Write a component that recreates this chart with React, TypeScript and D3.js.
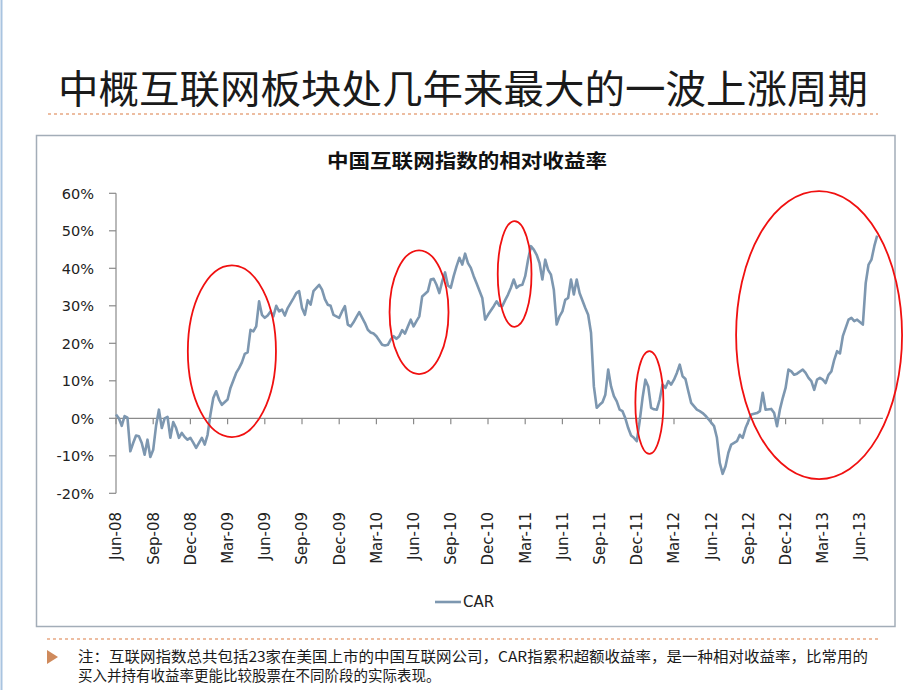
import React from "react";
import * as d3 from "d3";

// weekly observations (week index from Jun-2008) and cumulative abnormal return (%)
const weekIndex = [
  0, 1, 2, 3, 4, 5, 6, 7, 8, 9, 10, 11, 12, 13, 14, 15, 16, 17, 18, 19, 20, 21, 22, 23, 24, 25, 26, 27, 28, 30,
  31, 32, 33, 34, 35, 36, 37, 39, 40, 42, 43, 44, 45, 46, 47, 48, 49, 50, 51, 52, 53, 54, 55, 56, 57, 58, 59, 60,
  62, 63, 64, 65, 66, 67, 68, 69, 71, 72, 73, 74, 75, 76, 78, 79, 80, 81, 82, 83, 84, 85, 87, 88, 89, 90, 91, 93,
  94, 95, 96, 97, 98, 99, 100, 101, 102, 103, 104, 105, 106, 107, 109, 110, 111, 112, 113, 114, 115, 116, 117, 118,
  119, 120, 121, 122, 123, 124, 125, 126, 128, 129, 130, 132, 133, 134, 135, 136, 137, 138, 139, 140, 141, 142, 143,
  144, 145, 146, 147, 148, 149, 150, 151, 152, 153, 154, 155, 156, 157, 158, 159, 160, 161, 162, 164, 165, 166, 167,
  168, 169, 170, 171, 172, 173, 174, 175, 176, 177, 178, 179, 180, 181, 182, 183, 184, 185, 186, 187, 188, 189, 190,
  191, 192, 193, 194, 195, 196, 197, 198, 199, 200, 201, 203, 204, 205, 206, 207, 209, 210, 211, 212, 213, 214, 215,
  217, 218, 219, 220, 221, 222, 224, 225, 226, 227, 229, 230, 231, 232, 233, 234, 235, 236, 237, 238, 240, 241, 242,
  243, 244, 245, 246, 247, 248, 249, 250, 251, 252, 253, 254, 256, 257, 258, 259, 261, 262, 263, 264, 265, 266,
];
const carValues = [
  1.0, 0.0, -2.0, 0.6, 0.2, -8.8, -6.6, -4.6, -4.8, -6.6, -9.7, -5.7, -10.3, -8.4, -2.0, 2.3, -2.6, 0.0, 0.4, -5.2,
  -1.0, -2.6, -5.2, -3.9, -5.0, -5.7, -5.2, -6.5, -7.9, -5.2, -7.0, -4.4, 1.0, 5.4, 7.2, 5.0, 3.6, 5.0, 8.1, 12.1,
  13.4, 14.9, 17.2, 17.6, 23.6, 23.2, 24.5, 31.2, 27.6, 26.8, 27.4, 28.5, 27.2, 30.0, 28.5, 29.0, 27.4, 29.4, 32.0,
  33.4, 33.9, 29.4, 27.6, 31.5, 30.3, 33.9, 35.6, 34.3, 31.8, 30.3, 30.0, 27.6, 26.8, 28.5, 29.9, 25.0, 24.5, 25.6,
  27.0, 28.3, 25.4, 23.6, 22.9, 22.6, 21.9, 19.6, 19.4, 19.6, 21.0, 21.9, 21.2, 21.9, 23.5, 22.6, 24.5, 26.3, 24.5,
  25.9, 27.2, 32.5, 33.9, 37.0, 37.2, 35.6, 33.4, 36.5, 38.9, 35.4, 34.8, 37.9, 40.5, 42.8, 41.0, 43.9, 41.4, 40.1,
  37.9, 36.0, 32.1, 26.3, 27.6, 29.9, 31.2, 30.0, 29.9, 31.5, 33.0, 34.8, 37.0, 34.8, 35.4, 35.6, 37.9, 42.3, 45.9,
  45.0, 43.6, 41.4, 37.0, 42.3, 39.6, 38.3, 34.3, 25.0, 27.2, 28.5, 31.6, 32.1, 37.0, 33.0, 37.0, 33.4, 29.4, 27.6,
  22.8, 8.5, 2.8, 3.6, 4.3, 6.3, 13.0, 8.5, 5.9, 4.5, 2.3, 1.9, 0.0, -2.6, -4.6, -5.2, -6.1, -0.8, 5.4, 10.3, 8.5,
  2.8, 2.4, 2.3, 5.0, 9.0, 8.1, 9.9, 9.0, 10.3, 12.1, 14.3, 11.2, 10.5, 7.2, 4.1, 2.3, 1.9, 1.4, 0.7, -0.2, -2.1,
  -5.2, -11.9, -14.8, -12.8, -9.2, -7.0, -6.1, -4.4, -5.2, -2.6, -0.8, 1.0, 1.4, 1.9, 6.8, 2.3, 2.5, 1.4, -2.1, 2.3,
  5.4, 8.1, 13.0, 12.5, 11.6, 11.9, 13.0, 12.1, 10.8, 9.9, 7.6, 10.3, 10.8, 10.3, 9.4, 11.6, 12.5, 15.6, 17.9, 17.3,
  21.9, 26.3, 26.8, 25.9, 26.3, 25.0, 36.1, 41.0, 42.3, 45.9, 48.7,
];

const quarterLabels = [
  "Jun-08", "Sep-08", "Dec-08", "Mar-09", "Jun-09", "Sep-09", "Dec-09", "Mar-10", "Jun-10", "Sep-10", "Dec-10",
  "Mar-11", "Jun-11", "Sep-11", "Dec-11", "Mar-12", "Jun-12", "Sep-12", "Dec-12", "Mar-13", "Jun-13",
];
const weeksPerQuarter = 13;
const yTicks = [-20, -10, 0, 10, 20, 30, 40, 50, 60];

// red highlight ellipses, in data units (center week, center %, half-width weeks, half-height %)
const hlCenterWeek = [40.5, 105.9, 139.3, 186.4, 245.7];
const hlCenterValue = [17.9, 28.3, 38.5, 4.2, 22.2];
const hlHalfWeeks = [15.4, 10.3, 5.9, 4.9, 29.0];
const hlHalfValue = [22.9, 16.5, 14.1, 13.7, 38.4];

const slideTitle = "中概互联网板块处几年来最大的一波上涨周期";
const chartTitle = "中国互联网指数的相对收益率";
const seriesName = "CAR";
const noteLines = [
  "注：互联网指数总共包括23家在美国上市的中国互联网公司，CAR指累积超额收益率，是一种相对收益率，比常用的",
  "买入并持有收益率更能比较股票在不同阶段的实际表现。",
];

const CJK = "'Noto Sans CJK SC', 'Noto Sans', sans-serif";
const LAT = "'DejaVu Sans', Verdana, sans-serif";

export default function App() {
  const x = d3.scaleLinear().domain([0, 260]).range([116, 860]);
  const y = d3.scaleLinear().domain([-20, 60]).range([493.3, 193.3]);
  const pts = weekIndex.map((w, i) => [w, carValues[i]] as [number, number]);
  const line = d3
    .line<[number, number]>()
    .x((d) => x(d[0]))
    .y((d) => y(d[1]));
  const axisEndWeek = 268;
  const lineColor = "#7d97b0";
  const axisColor = "#8a8a8a";

  return (
    <svg
      width={920}
      height={690}
      style={{ position: "absolute", left: 0, top: 0, background: "#fff" }}
    >
      <rect x={0} y={0} width={920} height={690} fill="#fff" />
      <line x1={1.5} x2={1.5} y1={0} y2={690} stroke="#a9c4e0" strokeWidth={2} />

      {/* slide title */}
      <text
        x={58}
        y={103}
        fontFamily={CJK}
        fontSize={39}
        fill="#1a1a1a"
        textLength={810}
        lengthAdjust="spacingAndGlyphs"
      >
        {slideTitle}
      </text>
      <line x1={48} x2={878} y1={114} y2={114} stroke="#e8a883" strokeWidth={1.5} strokeDasharray="3,3" />

      {/* chart frame */}
      <rect x={36.5} y={135.5} width={858.5} height={491} fill="#fff" stroke="#a3adb8" strokeWidth={1.5} />
      <text
        x={467}
        y={168}
        textAnchor="middle"
        fontFamily={CJK}
        fontWeight={700}
        fontSize={19}
        fill="#111"
        textLength={280}
        lengthAdjust="spacingAndGlyphs"
      >
        {chartTitle}
      </text>

      {/* y axis */}
      <line x1={x(0)} x2={x(0)} y1={y(60)} y2={y(-20)} stroke={axisColor} strokeWidth={1.2} />
      {yTicks.map((t) => (
        <g key={t}>
          <line x1={x(0) - 7} x2={x(0)} y1={y(t)} y2={y(t)} stroke={axisColor} strokeWidth={1.2} />
          <text
            x={94}
            y={y(t)}
            dy="0.36em"
            textAnchor="end"
            fontFamily={LAT}
            fontSize={14.5}
            fill="#222"
          >
            {`${t}%`}
          </text>
        </g>
      ))}

      {/* x axis at 0% */}
      <line x1={x(0)} x2={x(axisEndWeek)} y1={y(0)} y2={y(0)} stroke={axisColor} strokeWidth={1.2} />
      {quarterLabels.map((lab, i) => {
        const xx = x(i * weeksPerQuarter);
        return (
          <g key={lab}>
            <line x1={xx} x2={xx} y1={y(0)} y2={y(0) + 6} stroke={axisColor} strokeWidth={1.2} />
            <text
              transform={`translate(${xx},512) rotate(-90)`}
              dy="0.36em"
              textAnchor="end"
              fontFamily={LAT}
              fontSize={15}
              fill="#222"
            >
              {lab}
            </text>
          </g>
        );
      })}

      {/* series */}
      <path d={line(pts) || ""} fill="none" stroke={lineColor} strokeWidth={2.6} strokeLinejoin="round" />

      {/* highlight ellipses */}
      {hlCenterWeek.map((cw, i) => {
        const cx = x(cw);
        const cy = y(hlCenterValue[i]);
        const rx = x(cw + hlHalfWeeks[i]) - cx;
        const ry = y(hlCenterValue[i] - hlHalfValue[i]) - cy;
        return <ellipse key={i} cx={cx} cy={cy} rx={rx} ry={ry} fill="none" stroke="#f01010" strokeWidth={1.8} />;
      })}

      {/* legend */}
      <line x1={435} x2={461} y1={602} y2={602} stroke={lineColor} strokeWidth={2.6} />
      <text x={463} y={602} dy="0.36em" fontFamily={LAT} fontSize={15} fill="#222">
        {seriesName}
      </text>

      {/* footnote */}
      <line x1={47} x2={880} y1={639} y2={639} stroke="#e8a883" strokeWidth={1.5} strokeDasharray="3,3" />
      <path d="M47,650 L58,657 L47,664 Z" fill="#cf8a5c" />
      <text
        x={78}
        y={662}
        fontFamily={CJK}
        fontSize={14.5}
        fill="#1a1a1a"
        textLength={790}
        lengthAdjust="spacingAndGlyphs"
      >
        {noteLines[0]}
      </text>
      <text x={78} y={681} fontFamily={CJK} fontSize={14.5} fill="#1a1a1a">
        {noteLines[1]}
      </text>
    </svg>
  );
}
